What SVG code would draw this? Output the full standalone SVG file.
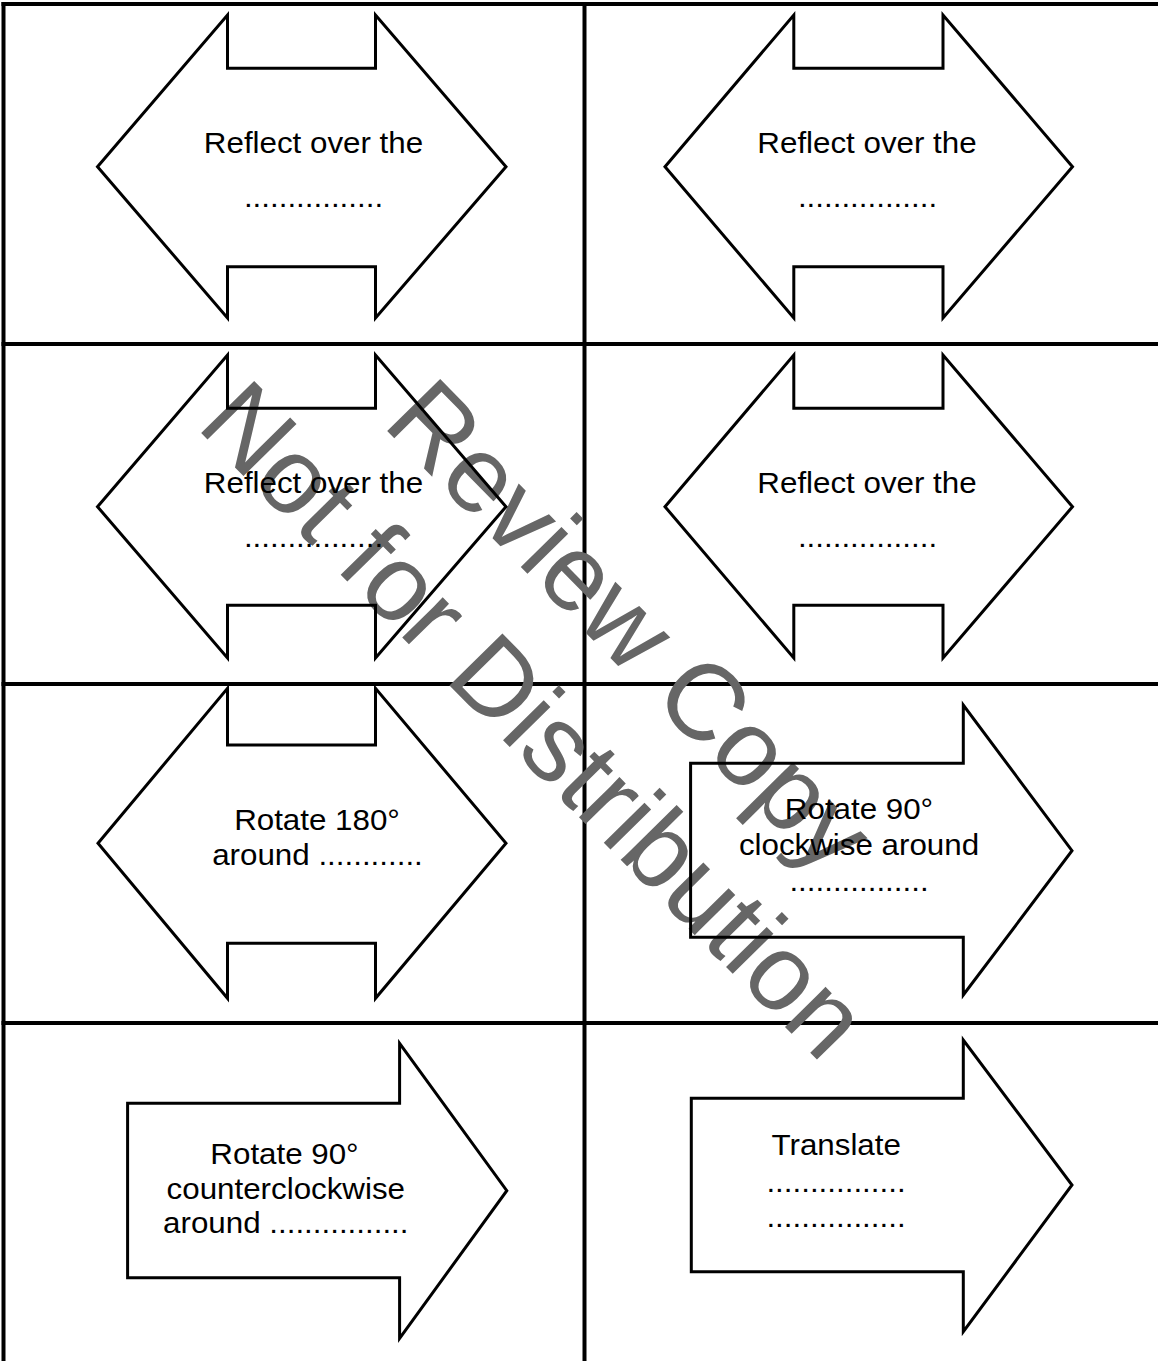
<svg xmlns="http://www.w3.org/2000/svg" width="1158" height="1361" viewBox="0 0 1158 1361">
<style>
.grid line{stroke:#000;stroke-width:4}
.shape{fill:none;stroke:#000;stroke-width:3;stroke-linejoin:miter;stroke-miterlimit:10}
.lbl{font-family:"Liberation Sans",Arial,sans-serif;font-size:29px;fill:#000;text-anchor:middle}
.wm{font-family:"Liberation Sans",Arial,sans-serif;font-size:108px;fill:#666;text-anchor:middle}
</style>
<rect width="1158" height="1361" fill="#fff"/>
<g id="grid" class="grid">
<line x1="3.5" y1="2" x2="3.5" y2="1361"/>
<line x1="584.5" y1="2" x2="584.5" y2="1361"/>
<line x1="1.5" y1="4" x2="1158" y2="4"/>
<line x1="1.5" y1="344" x2="1158" y2="344"/>
<line x1="1.5" y1="684" x2="1158" y2="684"/>
<line x1="1.5" y1="1023" x2="1158" y2="1023"/>
</g>
<g id="watermark" transform="translate(557 698) rotate(45.5)">
<text class="wm" x="0" y="-66">Review Copy</text>
<text class="wm" x="0" y="68">Not for Distribution</text>
</g>
<g id="connectors"></g>
<g id="card1">
<polygon class="shape" points="97.5,166.7 227.5,15 227.5,68.3 375.5,68.3 375.5,15 506,166.7 375.5,318 375.5,266.7 227.5,266.7 227.5,318"/>
<text class="lbl" transform="translate(313.5 153) scale(1.08 1)">Reflect over the</text>
<text class="lbl" transform="translate(313.5 207) scale(1.08 1)">................</text>
</g>
<g id="card2">
<polygon class="shape" points="665,166.7 793.8,15 793.8,68.3 943,68.3 943,15 1072.5,166.7 943,318 943,266.7 793.8,266.7 793.8,318"/>
<text class="lbl" transform="translate(867 153) scale(1.08 1)">Reflect over the</text>
<text class="lbl" transform="translate(867.5 207) scale(1.08 1)">................</text>
</g>
<g id="card3">
<polygon class="shape" points="97.5,506.7 227.5,355 227.5,408.3 375.5,408.3 375.5,355 506,506.7 375.5,658 375.5,605.3 227.5,605.3 227.5,658"/>
<text class="lbl" transform="translate(313.5 493) scale(1.08 1)">Reflect over the</text>
<text class="lbl" transform="translate(313.5 547) scale(1.08 1)">................</text>
</g>
<g id="card4">
<polygon class="shape" points="665,506.7 793.8,355 793.8,408.3 943,408.3 943,355 1072.5,506.7 943,658 943,605.3 793.8,605.3 793.8,658"/>
<text class="lbl" transform="translate(867 493) scale(1.08 1)">Reflect over the</text>
<text class="lbl" transform="translate(867.5 547) scale(1.08 1)">................</text>
</g>
<g id="card5">
<polygon class="shape" points="98,843.3 227.5,688.3 227.5,745 375.5,745 375.5,688.3 506,843.3 375.5,998.3 375.5,943.3 227.5,943.3 227.5,998.3"/>
<text class="lbl" transform="translate(317 829.5) scale(1.08 1)">Rotate 180°</text>
<text class="lbl" transform="translate(317.5 865) scale(1.08 1)">around ............</text>
</g>
<g id="card6">
<polygon class="shape" points="690.6,763.3 963.3,763.3 963.3,705 1072,850.7 963.3,995 963.3,937.3 690.6,937.3"/>
<text class="lbl" transform="translate(859 818.5) scale(1.08 1)">Rotate 90°</text>
<text class="lbl" transform="translate(859 855) scale(1.08 1)">clockwise around</text>
<text class="lbl" transform="translate(859 891) scale(1.08 1)">................</text>
</g>
<g id="card7">
<polygon class="shape" points="127.6,1103.3 399.6,1103.3 399.6,1043.3 506.8,1190.7 399.6,1338.3 399.6,1277.7 127.6,1277.7"/>
<text class="lbl" transform="translate(284.5 1164) scale(1.08 1)">Rotate 90°</text>
<text class="lbl" transform="translate(285.8 1199) scale(1.08 1)">counterclockwise</text>
<text class="lbl" transform="translate(285.8 1233.3) scale(1.08 1)">around ................</text>
</g>
<g id="card8">
<polygon class="shape" points="691.3,1098.3 963.3,1098.3 963.3,1040 1072,1185 963.3,1331.7 963.3,1271.7 691.3,1271.7"/>
<text class="lbl" transform="translate(836.2 1155) scale(1.08 1)">Translate</text>
<text class="lbl" transform="translate(836 1191.7) scale(1.08 1)">................</text>
<text class="lbl" transform="translate(836 1226.7) scale(1.08 1)">................</text>
</g>
</svg>
